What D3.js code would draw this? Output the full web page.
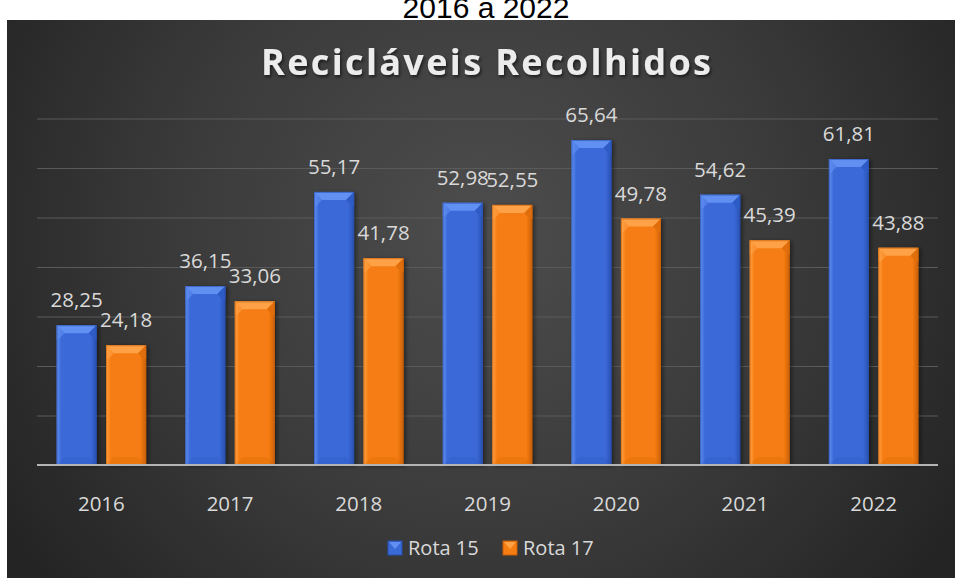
<!DOCTYPE html>
<html>
<head>
<meta charset="utf-8">
<script src="https://cdn.jsdelivr.net/npm/d3@7"></script>
<style>
  html, body { margin: 0; padding: 0; background: #fff; }
  svg { display: block; }
</style>
</head>
<body>
<svg id="chart" width="955" height="578"></svg>
<script>
/*
  RECICLÁVEIS RECOLHIDOS
  Grouped bars per year, two routes, dark Excel-like theme
*/
const years = ['2016', '2017', '2018', '2019', '2020', '2021', '2022'];
const seriesNames = ['Rota 15', 'Rota 17'];
const rota15 = [28.25, 36.15, 55.17, 52.98, 65.64, 54.62, 61.81];
const rota17 = [24.18, 33.06, 41.78, 52.55, 49.78, 45.39, 43.88];
const yTicks = [10, 20, 30, 40, 50, 60, 70];

const WIDTH = 955;
const HEIGHT = 578;
const panel = { x: 7, y: 20 };
const plot = { left: 37, right: 938, top: 118.5, bottom: 465 };
const BEVEL = 8;

// pt-BR number format (decimal comma)
const ptBR = d3.formatLocale({ decimal: ',', thousands: '.', grouping: [3], currency: ['R$', ''] });
const fmt = ptBR.format('.2f');

const palette = {
  'Rota 15': { body: '#3a69d8', light: '#6190f2', dark: '#2850b0', edge: '#2f5bc6' },
  'Rota 17': { body: '#f67d12', light: '#ffa246', dark: '#c85f06', edge: '#e06e0a' }
};

const rows = years.map((y, i) => ({
  year: y,
  values: [
    { key: seriesNames[0], value: rota15[i] },
    { key: seriesNames[1], value: rota17[i] }
  ]
}));

/**
 * Scales
 */
const scale = {};
scale.x0 = d3.scaleBand()
  .domain(years)
  .range([plot.left, plot.right]);

const outer = scale.x0.bandwidth() * 0.152;
scale.x1 = d3.scaleBand()
  .domain(seriesNames)
  .range([outer, scale.x0.bandwidth() - outer])
  .paddingInner(0.19);

scale.y = d3.scaleLinear()
  .domain([0, 70])
  .range([plot.bottom, plot.top]);

/**
 * SVG and defs
 */
const dom = {};
dom.svg = d3.select('#chart');
const defs = dom.svg.append('defs');

const bg = defs.append('radialGradient')
  .attr('id', 'bg')
  .attr('gradientUnits', 'userSpaceOnUse')
  .attr('cx', 480).attr('cy', 230).attr('r', 560);
bg.append('stop').attr('offset', '0%').attr('stop-color', '#4d4d4d');
bg.append('stop').attr('offset', '55%').attr('stop-color', '#3a3a3a');
bg.append('stop').attr('offset', '100%').attr('stop-color', '#242424');

seriesNames.forEach((s, i) => {
  const g = defs.append('linearGradient')
    .attr('id', `body${i}`)
    .attr('x1', 0).attr('x2', 1).attr('y1', 0).attr('y2', 0);
  g.append('stop').attr('offset', '0%').attr('stop-color', palette[s].light);
  g.append('stop').attr('offset', '12%').attr('stop-color', palette[s].body);
  g.append('stop').attr('offset', '85%').attr('stop-color', palette[s].body);
  g.append('stop').attr('offset', '100%').attr('stop-color', palette[s].dark);
});

const shadow = defs.append('filter').attr('id', 'shadow')
  .attr('x', '-10%').attr('y', '-10%').attr('width', '130%').attr('height', '130%');
shadow.append('feDropShadow')
  .attr('dx', 1.5).attr('dy', 2).attr('stdDeviation', 1.5)
  .attr('flood-color', '#000').attr('flood-opacity', 0.55);

const barShadow = defs.append('filter').attr('id', 'barShadow')
  .attr('x', '-20%').attr('y', '-10%').attr('width', '150%').attr('height', '130%');
barShadow.append('feDropShadow')
  .attr('dx', 2).attr('dy', 1).attr('stdDeviation', 2)
  .attr('flood-color', '#000').attr('flood-opacity', 0.45);

/*
 * Subtitle cut off above the panel
 */
dom.svg.append('text')
  .attr('x', 486).attr('y', 18)
  .attr('text-anchor', 'middle')
  .attr('font-family', 'Liberation Sans, Arial, sans-serif')
  .attr('font-size', 30)
  .attr('fill', '#000')
  .text('2016 a 2022');

dom.svg.append('rect')
  .attr('x', panel.x).attr('y', panel.y)
  .attr('width', WIDTH - panel.x).attr('height', HEIGHT - panel.y)
  .attr('fill', 'url(#bg)');

/*
 * Title
 */
dom.svg.append('text')
  .attr('x', 486).attr('y', 75)
  .attr('text-anchor', 'middle')
  .attr('font-family', 'Open Sans, sans-serif')
  .attr('font-weight', 700)
  .attr('font-size', 36)
  .attr('textLength', 450)
  .attr('lengthAdjust', 'spacing')
  .attr('fill', '#ececec')
  .attr('filter', 'url(#shadow)')
  .text('Recicláveis Recolhidos');

/*
 * Gridlines and baseline
 */
dom.grid = dom.svg.append('g')
  .attr('transform', `translate(${plot.left}, 0)`)
  .call(d3.axisLeft(scale.y).tickValues(yTicks).tickSize(-(plot.right - plot.left)).tickFormat(''));
dom.grid.select('.domain').remove();
dom.grid.selectAll('line').attr('stroke', '#5a5a5a').attr('stroke-width', 1);

/*
 * Bars
 */
const groups = dom.svg.append('g')
  .selectAll('g')
  .data(rows)
  .join('g')
  .attr('transform', d => `translate(${scale.x0(d.year)}, 0)`);

const bars = groups.selectAll('g.bar')
  .data(d => d.values)
  .join('g')
  .attr('class', 'bar')
  .attr('filter', 'url(#barShadow)');

bars.each(function(d) {
  const g = d3.select(this);
  const i = seriesNames.indexOf(d.key);
  const x0 = scale.x1(d.key);
  const w = scale.x1.bandwidth();
  const x1 = x0 + w;
  const y0 = scale.y(d.value);
  const y1 = scale.y(0);
  const c = palette[d.key];

  g.append('rect')
    .attr('x', x0).attr('y', y0)
    .attr('width', w).attr('height', y1 - y0)
    .attr('fill', `url(#body${i})`);

  // top bevel
  g.append('polygon')
    .attr('points', [[x0, y0], [x1, y0], [x1 - BEVEL, y0 + BEVEL], [x0 + BEVEL, y0 + BEVEL]].join(' '))
    .attr('fill', c.light);
  // left bevel
  g.append('polygon')
    .attr('points', [[x0, y0], [x0 + BEVEL, y0 + BEVEL], [x0 + 2, y0 + BEVEL + 6], [x0, y0 + BEVEL + 6]].join(' '))
    .attr('fill', c.light).attr('opacity', 0.6);
  // right bevel
  g.append('polygon')
    .attr('points', [[x1, y0], [x1 - BEVEL, y0 + BEVEL], [x1 - 2, y0 + BEVEL + 6], [x1, y0 + BEVEL + 6]].join(' '))
    .attr('fill', c.edge);
  // bottom bevel
  g.append('polygon')
    .attr('points', [[x0, y1], [x1, y1], [x1 - BEVEL, y1 - BEVEL], [x0 + BEVEL, y1 - BEVEL]].join(' '))
    .attr('fill', c.dark).attr('opacity', 0.2);
  // outline
  g.append('rect')
    .attr('x', x0 + 0.5).attr('y', y0 + 0.5)
    .attr('width', w - 1).attr('height', y1 - y0 - 1)
    .attr('fill', 'none')
    .attr('stroke', c.dark).attr('stroke-opacity', 0.6);
});

/*
 * Value labels
 */
groups.selectAll('text.value')
  .data(d => d.values)
  .join('text')
  .attr('class', 'value')
  .attr('x', d => scale.x1(d.key) + scale.x1.bandwidth() / 2)
  .attr('y', d => scale.y(d.value) - 18)
  .attr('text-anchor', 'middle')
  .attr('font-family', 'Open Sans, sans-serif')
  .attr('font-size', 20.5)
  .attr('fill', '#d9d9d9')
  .text(d => fmt(d.value));

/*
 * Baseline and category axis
 */
dom.svg.append('line')
  .attr('x1', plot.left).attr('x2', plot.right)
  .attr('y1', scale.y(0)).attr('y2', scale.y(0))
  .attr('stroke', '#b4b4b4').attr('stroke-width', 2);

dom.axisX = dom.svg.append('g')
  .attr('transform', `translate(0, ${plot.bottom})`)
  .call(d3.axisBottom(scale.x0).tickSize(0).tickPadding(31));
dom.axisX.select('.domain').remove();
dom.axisX.selectAll('text')
  .attr('font-family', 'Open Sans, sans-serif')
  .attr('font-size', 20.5)
  .attr('fill', '#d9d9d9');

/*
 * Legend
 */
const legendX = d3.scaleOrdinal().domain(seriesNames).range([388, 503]);
const legend = dom.svg.append('g')
  .selectAll('g')
  .data(seriesNames)
  .join('g')
  .attr('transform', d => `translate(${legendX(d)}, 541)`);

legend.append('rect')
  .attr('width', 14).attr('height', 14)
  .attr('fill', d => palette[d].body)
  .attr('stroke', d => palette[d].dark).attr('stroke-width', 1);
legend.append('polygon')
  .attr('points', '1,1 13,1 7,8')
  .attr('fill', d => palette[d].light);
legend.append('text')
  .attr('x', 20).attr('y', 14)
  .attr('font-family', 'Open Sans, sans-serif')
  .attr('font-size', 20)
  .attr('fill', '#d9d9d9')
  .text(d => d);
</script>
</body>
</html>
